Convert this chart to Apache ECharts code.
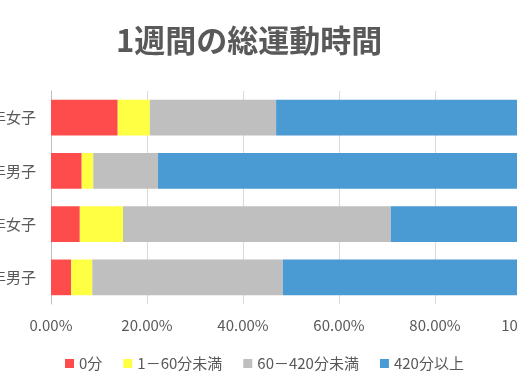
<!DOCTYPE html>
<html><head><meta charset="utf-8">
<script src="https://cdn.jsdelivr.net/npm/echarts@6/dist/echarts.min.js"></script>
<style>html,body{margin:0;padding:0;background:#fff}#c{width:517px;height:388px}</style>
</head><body><div id="c"></div>
<script>
var categories = ['小学5年男子', '小学5年女子', '中学2年男子', '中学2年女子'];
var seriesNames = ['0分', '1－60分未満', '60－420分未満', '420分以上'];
var v0 = [4.2, 6.0, 6.4, 13.9];
var v1 = [4.4, 9.0, 2.4, 6.7];
var v2 = [39.7, 55.8, 13.5, 26.3];
var v3 = [51.7, 29.2, 77.7, 53.1];
var xTicks = [0, 20, 40, 60, 80, 100];
var colors = ['#fe4c4c', '#ffff44', '#bfbfbf', '#4a9ad4'];
var font = '"Noto Sans CJK JP", "Noto Sans", sans-serif';
var chart = echarts.init(document.getElementById('c'));
var vals = [v0, v1, v2, v3];
chart.setOption({
  animation: false,
  title: {text: '1週間の総運動時間', left: 111, top: 20,
    textStyle: {fontFamily: font, fontSize: 31, fontWeight: 'bold', color: '#595959'}},
  legend: {bottom: 12, left: 60, itemWidth: 9, itemHeight: 9, itemGap: 21,
    icon: 'rect', textStyle: {fontFamily: font, fontSize: 15, color: '#595959'},
    data: seriesNames},
  grid: {left: 51, top: 91, width: 480, bottom: 84, outerBoundsMode: 'none', containLabel: false},
  xAxis: {type: 'value', min: 0, max: 100, interval: 20,
    axisLine: {show: false}, axisTick: {show: false},
    splitLine: {lineStyle: {color: '#d9d9d9'}},
    axisLabel: {fontFamily: font, fontSize: 15, color: '#595959', margin: 14,
      formatter: function (v) { return v.toFixed(2) + '%'; }}},
  yAxis: {type: 'category', data: categories,
    axisLine: {lineStyle: {color: '#bfbfbf'}}, axisTick: {show: false},
    axisLabel: {fontFamily: font, fontSize: 15, color: '#595959', margin: 15}},
  series: seriesNames.map(function (n, i) {
    return {name: n, type: 'bar', stack: 'a', data: vals[i], barCategoryGap: '33%',
      itemStyle: {color: colors[i]}};
  })
});
</script></body></html>
